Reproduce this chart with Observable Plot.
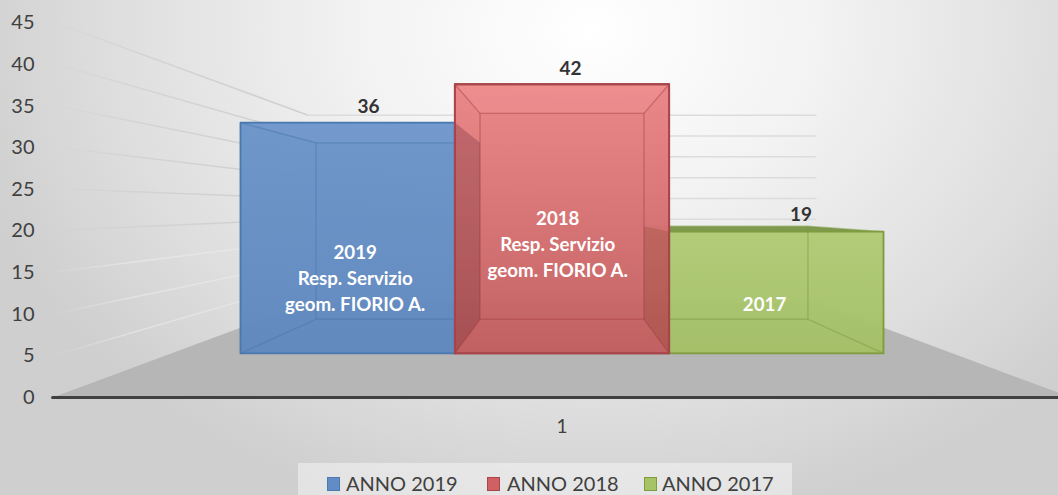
<!DOCTYPE html>
<html><head><meta charset="utf-8">
<script src="https://cdn.jsdelivr.net/npm/d3@7"></script>
<script src="https://cdn.jsdelivr.net/npm/@observablehq/plot@0.6"></script>
<style>
html,body{margin:0;padding:0;width:1058px;height:495px;overflow:hidden;font-family:Lato,sans-serif}
#chart{position:relative;width:1058px;height:495px;background:radial-gradient(ellipse 640px 500px at 590px 30px,#ffffff 0%,#f3f3f3 35%,#dedede 75%,#cfcfcf 100%)}
#legend{position:absolute;left:298px;top:463px;width:494px;height:32px;background:rgba(255,255,255,.42);color:#404040;font-size:20px;line-height:41px}
#legend span{position:absolute;top:0;white-space:nowrap}
#legend i{position:absolute;top:14px;width:11px;height:12px;border:1.5px solid}
svg{position:absolute;left:0;top:0;background:transparent}
</style></head><body><div id="chart"><div id="legend"></div></div>
<script>
const series = ["ANNO 2019", "ANNO 2018", "ANNO 2017"];
const values = [36, 42, 19];
const category = "1";
const innerLabels = ["2019\nResp. Servizio\ngeom. FIORIO A.", "2018\nResp. Servizio\ngeom. FIORIO A.", "2017"];
const yTicks = [0, 5, 10, 15, 20, 25, 30, 35, 40, 45];

const swatchColors = ["#618cc4", "#cf6063", "#a6c466"];
const gradTop = ["#6c94c9", "#ea8486", "#b0cb76"];
const gradBottom = ["#5f88be", "#c25e5e", "#a4c066"];
const topFaceFill = ["#7aa0d4", "#f59a9a", "#7d9a4f"];
const topFaceAlpha = [0.3, 0.3, 1];
const strokes = ["#4a78b0", "#a8454b", "#7f9c3f"];
const innerAt = [[0.535, 14.5], [1.48, 18.65], [2.445, 11.4]];
const valueLabelU = [0.597, 1.54, 2.615];
const labelLift = [1.9, 1.9, 2.0];
const legendX = [[29, 48], [189, 209], [346, 364]];
const drawOrder = [2, 0, 1];

// 3D projection: u = position across the bars, v = value, d = depth (0 front of bars, 1 back of bars)
const uMid = 1.5;
const project = (u, v, d) => ({
  x: uMid + (u - uMid) * (1 - 0.235 * d),
  y: (5.3 + 4.1 * d) + (0.77 - 0.181 * d) * v
});
const dFront = -1.293, dBack = 1.49, uLeft = -0.323, uRight = 3.323;

const poly = pts => pts.map(p => project(...p));
const floor = poly([[uLeft,0,dFront],[uRight,0,dFront],[uRight,0,dBack],[uLeft,0,dBack]]);
const gridRows = (a, b) => yTicks.flatMap(v => [project(...a(v)), project(...b(v))].map(p => ({...p, v})));
const leftGrid = gridRows(v => [uLeft,v,dFront], v => [uLeft,v,dBack]);
const backGrid = gridRows(v => [uLeft,v,dBack], v => [uRight,v,dBack]);
const axisLine = [project(uLeft,0,dFront), project(uRight,0,dFront)];

const closed = (pts, o) => Plot.line(pts, {x:"x", y:"y", curve:"linear-closed", ...o});
const leftFace = (u,val) => poly([[u,0,0],[u,0,1],[u,val,1],[u,val,0]]);

const barMarks = i => {
  const a=i, b=i+1, val=values[i];
  const thin = {stroke:strokes[i], strokeOpacity:.28, strokeWidth:1.3};
  return [
    closed(poly([[a,0,0],[b,0,0],[b,val,0],[a,val,0]]), {fill:`url(#bar${i})`, fillOpacity:.97}),
    closed(poly([[a,val,0],[b,val,0],[b,val,1],[a,val,1]]), {fill:topFaceFill[i], fillOpacity:topFaceAlpha[i], ...thin}),
    closed(poly([[a,0,1],[b,0,1],[b,val,1],[a,val,1]]), thin),
    closed(poly([[a,0,0],[b,0,0],[b,0,1],[a,0,1]]), thin),
    closed(leftFace(a,val), thin),
    closed(leftFace(b,val), thin),
    closed(poly([[a,0,0],[b,0,0],[b,val,0],[a,val,0]]), {stroke:strokes[i], strokeWidth:1.8})
  ];
};

const defsMark = () => {
  const ns="http://www.w3.org/2000/svg";
  const defs=document.createElementNS(ns,"defs");
  const grad=(id,attrs,stops)=>{
    const g=document.createElementNS(ns,"linearGradient");g.setAttribute("id",id);
    for(const k in attrs)g.setAttribute(k,attrs[k]);
    stops.forEach(([o,c,op])=>{const s=document.createElementNS(ns,"stop");s.setAttribute("offset",o);s.setAttribute("stop-color",c);s.setAttribute("stop-opacity",op);g.appendChild(s);});
    defs.appendChild(g);
  };
  values.forEach((_,i)=>grad(`bar${i}`,{x1:0,y1:0,x2:0,y2:1},[[0,gradTop[i],1],[1,gradBottom[i],1]]));
  const fade={gradientUnits:"userSpaceOnUse",x1:50,y1:0,x2:260,y2:0};
  grad("fadeDark",fade,[[0,"#c8c8c8",0],[.45,"#cccccc",.6],[1,"#d0d0d0",1]]);
  grad("fadeLight",fade,[[0,"#f2f2f2",0],[.4,"#f0f0f0",.5],[1,"#ececec",.5]]);
  return defs;
};

const chart = Plot.plot({
  width:1058,height:495,marginLeft:40,marginRight:0,marginTop:0,marginBottom:90,
  style:{background:"transparent",fontFamily:"Lato,sans-serif",overflow:"hidden"},
  x:{type:"linear",domain:[0,3],range:[240,883]},
  y:{type:"linear",domain:[0,45],range:[397,22.5]},
  marks:[
    defsMark,
    closed(floor,{fill:"#b6b6b6"}),
    Plot.line(leftGrid,{x:"x",y:"y",z:"v",stroke:"url(#fadeDark)",strokeWidth:1.5,filter:d=>d.v>=20}),
    Plot.line(leftGrid,{x:"x",y:"y",z:"v",stroke:"url(#fadeLight)",strokeWidth:1.5,filter:d=>d.v<20&&d.v>0}),
    Plot.line(backGrid,{x:"x",y:"y",z:"v",stroke:"#dcdcdc",strokeWidth:1.5,filter:d=>d.v>0}),
    ...drawOrder.flatMap(barMarks),
    // where the red box overlaps the side faces of its neighbours
    closed(leftFace(1,values[0]),{fill:"#6a2a35",fillOpacity:.3}),
    closed(leftFace(2,values[2]),{fill:"#7a3a22",fillOpacity:.25}),
    closed(poly([[1,0,0],[2,0,0],[2,values[1],0],[1,values[1],0]]),{stroke:strokes[1],strokeWidth:1.8}),
    Plot.line(axisLine,{x:"x",y:"y",stroke:"#404040",strokeWidth:3}),
    Plot.axisY({ticks:yTicks,tickSize:0,tickPadding:6,label:null,fontSize:20,color:"#404040"}),
    Plot.axisX({ticks:[uMid],tickFormat:()=>category,tickSize:0,tickPadding:14,label:null,fontSize:19,color:"#404040"}),
    Plot.text(values,{x:(_,i)=>valueLabelU[i],y:(d,i)=>project(i,d,0).y+labelLift[i],text:d=>String(d),fontSize:19,fontWeight:"bold",fill:"#333333"}),
    Plot.text(innerLabels,{x:(_,i)=>innerAt[i][0],y:(_,i)=>innerAt[i][1],text:d=>d,fontSize:18.7,fontWeight:"bold",fill:"#ffffff",lineHeight:1.39})
  ]
});
const root=document.getElementById("chart");
root.insertBefore(chart,root.firstChild);
const lg=document.getElementById("legend");
series.forEach((s,i)=>{
  const sw=document.createElement("i");sw.style.left=legendX[i][0]+"px";sw.style.background=swatchColors[i];sw.style.borderColor=strokes[i];lg.appendChild(sw);
  const t=document.createElement("span");t.style.left=legendX[i][1]+"px";t.textContent=s;lg.appendChild(t);
});
</script></body></html>
